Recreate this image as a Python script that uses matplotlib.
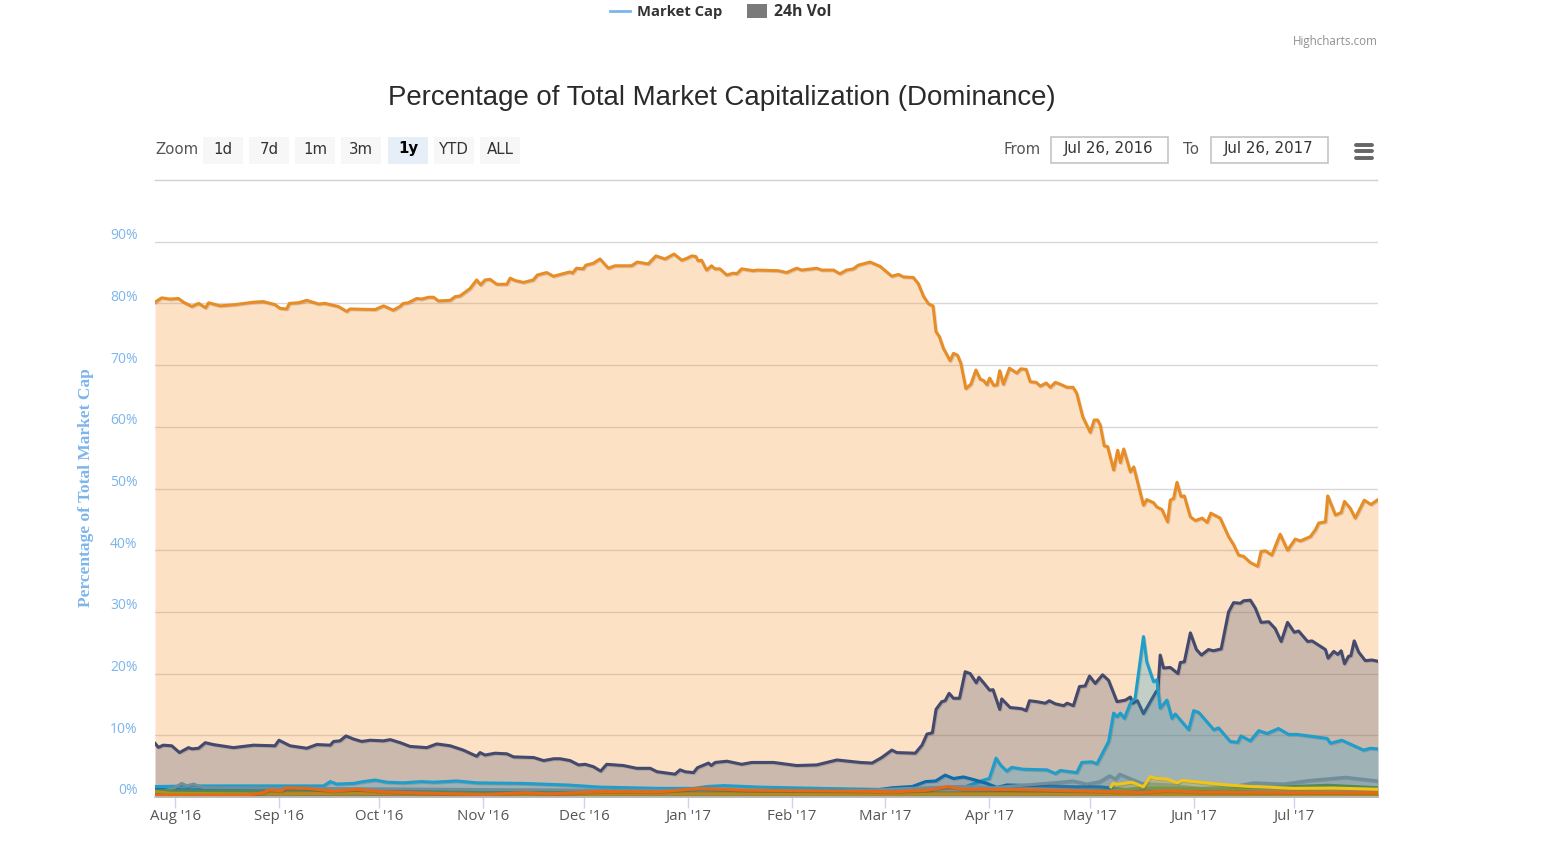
"""Dominance chart, Jul 2016 - Jul 2017"""
import matplotlib
matplotlib.use('Agg')
import matplotlib.pyplot as plt
import matplotlib.dates as mdates
import matplotlib.patheffects as pe
from matplotlib.patches import Rectangle
from matplotlib.transforms import ScaledTranslation
from datetime import datetime, timedelta

W, H = 1561, 859
START = datetime(2016, 7, 26)
END = datetime(2017, 7, 26)

# day offsets from START and percent values
btc_days = [0, 2, 4.5, 7, 8.5, 11, 13, 15.1, 16, 19.4, 23.9, 29.4, 32.3, 35.8, 37.3, 39.3, 40.1, 42.8, 45.3, 48.8,
            50.7, 54.7, 57.2, 58.2, 65.7, 68.2, 71.1, 73.1, 74.1, 75.6, 78.1, 79.6, 81.6, 83.1, 84.6, 88.1, 89.6,
            91, 94, 96, 97.2, 98.5, 100, 102, 105, 106, 107.5, 110, 112.9, 114.1, 116.9, 118.9, 123.8, 124.6,
            125.8, 127.8, 128.6, 130.8, 132.8, 135.3, 137.3, 142.2, 143.9, 147.2, 149.5, 152.2, 154.9, 157.2,
            158.7, 160.2, 161.4, 162.1, 163.1, 164.6, 166.1, 167.1, 168.6, 170.6, 172.6, 173.6, 175.1, 178.6,
            179.6, 186, 188.5, 191.5, 193, 197.5, 199, 202.5, 204.4, 206.4, 208.4, 209.9, 213.4, 216.4, 219.9,
            221.9, 223.3, 226.3, 227.8, 229.4, 230.9, 232.2, 233.1, 234.1, 235.3, 237.3, 238.3, 239.5, 240.5,
            242, 243.5, 245, 246.3, 247.3, 248.3, 249.1, 250.3, 251.3, 252.1, 253.2, 255, 257.2, 258.4, 260,
            261.2, 263, 264.2, 266, 267.2, 268.7, 270.2, 272.2, 274, 275.1, 276.9, 279.1, 280.3, 281.3, 282.1,
            283.3, 284.3, 286.1, 287.3, 288.1, 289.1, 291.1, 292.1, 295, 296, 298, 299, 300.5, 302.2, 303, 304,
            305, 306.2, 307.2, 309, 310.5, 312.5, 314, 315.1, 317.9, 320.4, 321.9, 323.4, 324.9, 326.9, 329.1,
            330.1, 331.4, 333.3, 335.8, 338, 340.3, 341.8, 344.8, 346.3, 347.3, 349.3, 350, 352.3, 354, 355,
            356.7, 358.2, 360.9, 362.9, 365]
btc_vals = [80.2, 80.9, 80.7, 80.8, 80.2, 79.5, 80, 79.3, 80.1, 79.6, 79.8, 80.2, 80.3, 79.8, 79.2, 79.1, 80, 80.1,
            80.5, 79.9, 80, 79.5, 78.7, 79.1, 79, 79.6, 78.9, 79.5, 80, 80.1, 80.8, 80.7, 81, 81, 80.4, 80.5, 81.1,
            81.2, 82.4, 83.8, 83, 83.8, 83.9, 83.1, 83.1, 84.1, 83.7, 83.4, 83.8, 84.6, 85, 84.4, 85.1, 84.9, 85.7,
            85.6, 86.2, 86.5, 87.2, 85.7, 86.1, 86.1, 86.7, 86.4, 87.7, 87.2, 88, 87, 87.3, 87.7, 87.6, 86.9, 87,
            85.4, 86.1, 85.6, 85.6, 84.6, 84.9, 84.8, 85.6, 85.3, 85.4, 85.3, 85, 85.7, 85.4, 85.7, 85.4, 85.4,
            84.8, 85.4, 85.6, 86.2, 86.7, 86, 84.4, 84.7, 84.3, 84.2, 83.2, 81.1, 79.9, 79.6, 75.4, 74.6, 72.7,
            70.7, 71.9, 71.6, 70.3, 66.2, 66.9, 69.2, 67.7, 67.5, 66.8, 67.9, 66.7, 66.8, 69.1, 66.9, 69.5, 68.7,
            69.4, 69.3, 67.3, 67.2, 66.6, 67.1, 66.4, 67.2, 66.9, 66.4, 66.4, 65.4, 61.6, 59.1, 61.1, 61.1, 60.3,
            56.9, 56.8, 53, 56.2, 54.2, 56.4, 52.7, 53.5, 47.3, 48.2, 47.7, 47, 46.6, 44.6, 48.1, 48.4, 51, 48.7,
            48.8, 45.4, 44.8, 45.2, 44.5, 46, 45.2, 42.2, 40.9, 39.2, 39, 38, 37.4, 39.8, 39.9, 39.2, 42.6, 40,
            41.8, 41.5, 42.2, 43.3, 44.4, 44.6, 48.8, 45.7, 46.1, 47.9, 46.8, 45.2, 48.1, 47.4, 48.2]

eth_days = [0, 1, 2.5, 5, 7.3, 10, 11, 13, 15, 17.4, 23.4, 29.4, 35.8, 37, 40.3, 45.3, 48.3, 52.3, 53.3, 55.2, 57,
            59.2, 61.7, 64.2, 68.2, 70.2, 73.2, 76.1, 81.1, 84.1, 88.1, 92, 96, 97, 98.5, 101.5, 105, 107, 113,
            116, 119, 120.9, 123.9, 126.4, 128.4, 130.9, 133, 134.8, 139.8, 143.8, 147.8, 149.8, 155.2, 156.7,
            158.2, 160.7, 161.9, 165.2, 166, 167.2, 170.7, 175.1, 178.1, 184.6, 191.5, 197.5, 203.5, 210.5, 214,
            216.9, 219.9, 221.4, 226.9, 228.9, 230.4, 232, 233.1, 234.8, 235.8, 237, 238.3, 240.1, 241.8, 243.3,
            245.1, 245.9, 247.3, 249.1, 250.1, 252.1, 252.7, 255.2, 257.2, 258.7, 260, 261, 263.2, 265.7, 266.9,
            268.7, 271.2, 272.2, 274.1, 275.9, 277.6, 278.9, 280.6, 282.8, 284.6, 287.1, 289.6, 291.1, 291.8,
            293.2, 295, 298.8, 299.3, 300, 301, 303, 305.3, 306, 307.2, 309, 310.8, 312.3, 314.4, 315.9, 318.2,
            320.4, 321.9, 323.9, 324.9, 326.9, 328.4, 330.1, 332.4, 334.3, 336.1, 338, 340, 341.3, 344, 345.3,
            349.3, 350.1, 351.8, 353, 354, 355, 356.2, 356.9, 357.9, 359.2, 361.2, 363.2, 365]
eth_vals = [8.7, 8.05, 8.4, 8.3, 7.2, 8, 7.8, 7.9, 8.8, 8.5, 8, 8.4, 8.3, 9.2, 8.3, 7.9, 8.5, 8.4, 9, 9.1, 9.9, 9.4,
            9, 9.2, 9.1, 9.3, 8.8, 8.2, 8, 8.6, 8.3, 7.6, 6.6, 7.2, 6.8, 7.1, 7, 6.5, 6.4, 5.9, 6.2, 6.2, 5.9, 5.2,
            5.3, 4.9, 4.2, 5.3, 5.1, 4.65, 4.65, 4.1, 3.7, 4.4, 4.1, 3.95, 4.75, 5.5, 5.1, 5.6, 5.8, 5.3, 5.6, 5.6,
            5.1, 5.2, 6, 5.6, 5.5, 6.4, 7.6, 7.2, 7.1, 8.4, 10.2, 10.4, 14.2, 15.45, 15.6, 16.8, 16, 16, 20.3, 20,
            18.5, 19.4, 18.5, 17.3, 17.4, 14.2, 15.9, 14.5, 14.4, 14.3, 14, 15.6, 15.45, 15.2, 15.6, 15.1, 14.8,
            15.2, 14.8, 17.9, 18, 19.6, 18.4, 19.8, 18.9, 15.45, 15.7, 16.2, 15.2, 15.6, 13.5, 17.1, 17.3, 23, 20.9,
            21, 20, 21.8, 21.9, 26.6, 23.9, 23, 23.9, 23.7, 24, 30, 31.5, 31.4, 31.8, 31.9, 30.6, 28.3, 28.4, 27.3,
            25.2, 28.3, 26.7, 26.9, 25.2, 25.3, 23.9, 22.5, 23.6, 23.1, 23.7, 21.6, 22.8, 22.9, 25.3, 23.5, 22.1,
            22.2, 22]

xrp_days = [0, 13.5, 33.4, 50.3, 52.3, 54.2, 59.2, 62.2, 65.7, 69.2, 74.1, 79.6, 83.1, 90, 96, 110, 123, 133, 150.8,
            160.7, 164.7, 169.7, 180.6, 198.5, 214.4, 222.4, 242, 247.3, 249, 251, 252.3, 254.2, 255.7, 259.2, 266.2,
            268.7, 270.2, 275.1, 276.6, 279.6, 281.1, 284.6, 286.1, 287.1, 288.1, 289.3, 291.1, 292.5, 295, 296, 298,
            299, 300, 302, 303.5, 304.5, 308.5, 310, 311.5, 316, 317.4, 320.9, 323.1, 324.1, 326.9, 329.4, 331.9,
            335.3, 338.3, 340.8, 349.8, 350.8, 354.2, 360.7, 362.7, 365]
xrp_vals = [1.7, 1.8, 1.8, 1.8, 2.5, 2.1, 2.2, 2.5, 2.75, 2.4, 2.3, 2.5, 2.4, 2.6, 2.3, 2.2, 1.95, 1.6, 1.4, 1.4, 1.7,
            1.85, 1.6, 1.4, 1.25, 1.2, 1.7, 2.75, 3, 6.3, 5.2, 4.2, 4.8, 4.5, 4.4, 3.8, 4.3, 3.95, 5.6, 5.7, 5.35, 9,
            13.6, 13, 13.6, 12.75, 15.2, 16, 26, 21.9, 18.7, 19, 14.4, 15.7, 12.75, 13.45, 10.9, 14, 13.7, 10.9, 11.2,
            9, 8.85, 9.9, 9.1, 10.75, 10.3, 11.1, 10.15, 10.15, 9.5, 8.7, 9.2, 7.6, 7.9, 7.8]

ltc_days = [0, 100, 200, 216, 220, 226, 230, 233, 235.8, 238.3, 241.3, 244.8, 248.3, 251.3, 254.2, 262.2, 275.1,
            282, 292, 302, 322, 365]
ltc_vals = [1.2, 1, 0.9, 1.2, 1.5, 1.7, 2.5, 2.6, 3.55, 3, 3.25, 2.75, 2.2, 1.55, 1.95, 1.85, 1.65, 1.65, 1.1, 0.85,
            0.85, 0.75]

slate_days = [0, 5.5, 8, 9.5, 11.5, 14.5, 100, 200, 241.3, 250, 270.2, 274, 278.1, 282, 284.9, 286.6, 287.9, 291,
              294.5, 298, 302, 312, 322, 328, 336.8, 344, 355.2, 365]
slate_vals = [0.6, 1.4, 2.2, 1.8, 2.1, 1.5, 1.2, 0.9, 1.7, 1.5, 2.4, 2.6, 2.1, 2.5, 3.45, 2.9, 3.7, 3, 2.2, 2.1, 2,
              1.4, 1.7, 2.3, 2.1, 2.65, 3.2, 2.6]

green_days = [0, 100, 250, 285, 295, 320, 350, 365]
green_vals = [1, 0.7, 0.7, 1, 1.5, 1.3, 1.9, 1.5]

yellow_days = [285.3, 285.9, 287.1, 291.6, 295, 297, 299, 302, 305, 306.5, 320, 327, 332, 339.8, 351.8, 365]
yellow_vals = [1.65, 2.2, 2.05, 2.4, 1.65, 3.3, 3, 2.9, 2.3, 2.7, 1.95, 1.7, 1.6, 1.4, 1.45, 1.25]

olive_days = [0, 5, 30, 60, 100, 150, 200, 300, 365]
olive_vals = [0.9, 0.6, 0.5, 0.6, 0.4, 0.5, 0.45, 0.5, 0.4]

orange_days = [0, 27.4, 32.4, 33.9, 37.8, 39, 45.3, 53.3, 60.2, 68.2, 83, 98, 111, 118, 133, 150.8, 162.7, 176.6,
               200.5, 220.4, 230.4, 236.8, 240.3, 262.2, 295, 302, 312, 365]
orange_vals = [0.3, 0.3, 0.7, 1.15, 1, 1.5, 1.4, 0.95, 1.25, 0.85, 0.6, 0.4, 0.7, 0.5, 0.9, 0.85, 1.4, 1.1, 1, 0.85,
               1.1, 1.7, 1.3, 1.15, 0.75, 1, 0.8, 0.7]

month_starts = [datetime(2016, 8, 1), datetime(2016, 9, 1), datetime(2016, 10, 1), datetime(2016, 11, 1),
                datetime(2016, 12, 1), datetime(2017, 1, 1), datetime(2017, 2, 1), datetime(2017, 3, 1),
                datetime(2017, 4, 1), datetime(2017, 5, 1), datetime(2017, 6, 1), datetime(2017, 7, 1)]
month_labels = ["Aug '16", "Sep '16", "Oct '16", "Nov '16", "Dec '16", "Jan '17", "Feb '17", "Mar '17",
                "Apr '17", "May '17", "Jun '17", "Jul '17"]
y_ticks = [0, 10, 20, 30, 40, 50, 60, 70, 80, 90]
zoom_buttons = ['1d', '7d', '1m', '3m', '1y', 'YTD', 'ALL']

# Colors
BTC = '#E88D25'
BTC_FILL = '#F78C20'
ETH = '#434A6E'
XRP = '#1F9ECB'
LTC = '#0F6CAB'
SLATE = '#6F8F9C'
GREEN = '#4F8A5A'
YELLOW = '#F0C419'
OLIVE = '#A8961F'
ORANGE = '#E8681A'
AXIS_BLUE = '#7CB5EC'
TEXT = '#555555'
UI_FONT = 'DejaVu Sans'
UI_SIZE = 10.8

fig = plt.figure(figsize=(W / 100, H / 100), dpi=100, facecolor='white')

# main plot, 155-1378 px wide, 180-797 px high
ax = fig.add_axes([155 / W, 1 - 797 / H, (1378 - 155) / W, (797 - 180) / H])
ax.set_xlim(mdates.date2num(START), mdates.date2num(END))
ax.set_ylim(0, 100)
for s in ax.spines.values():
    s.set_visible(False)
ax.grid(axis='y', color='#D8D8D8', linewidth=1)
ax.set_axisbelow(True)

series = [(btc_days, btc_vals, BTC), (eth_days, eth_vals, ETH), (xrp_days, xrp_vals, XRP),
          (ltc_days, ltc_vals, LTC), (slate_days, slate_vals, SLATE), (green_days, green_vals, GREEN),
          (yellow_days, yellow_vals, YELLOW), (olive_days, olive_vals, OLIVE), (orange_days, orange_vals, ORANGE)]
shadow = [pe.SimpleLineShadow(offset=(0.7, -0.7), alpha=0.12), pe.Normal()]
for i, (days, vals, col) in enumerate(series):
    xs = [START + timedelta(days=d) for d in days]
    fill_col = BTC_FILL if col == BTC else col
    ax.fill_between(xs, vals, 0, color=fill_col, alpha=0.26, linewidth=0, zorder=2 + i)
    ax.plot(xs, vals, color=col, linewidth=2.2, solid_joinstyle='round', zorder=2 + i, path_effects=shadow)

ax.set_xticks(month_starts)
ax.set_xticklabels(month_labels, fontsize=10.8, color=TEXT, family='Open Sans')
ax.tick_params(axis='x', length=8, width=1, color='#CCD6EB', pad=0.5)
ax.set_yticks(y_ticks)
ax.set_yticklabels([f'{v}%' for v in y_ticks], fontsize=10, color=AXIS_BLUE, family='Open Sans')
ax.tick_params(axis='y', length=0, pad=12.5)
# labels sit a bit above their gridline
shift = ScaledTranslation(0, 8 / 100, fig.dpi_scale_trans)
for lab in ax.get_yticklabels():
    lab.set_transform(lab.get_transform() + shift)
ax.set_ylabel('Percentage of Total Market Cap', fontsize=12.5, fontweight='bold', color=AXIS_BLUE,
              family='Liberation Serif')
ax.yaxis.set_label_coords((94 - 155) / (1378 - 155), (797 - 488) / (797 - 180))
ax.axhline(0, color='#C0C0C0', linewidth=1.2, zorder=20, clip_on=False)

# page chrome in pixel coordinates
ui = fig.add_axes([0, 0, 1, 1], facecolor='none')
ui.set_xlim(0, W)
ui.set_ylim(H, 0)
ui.axis('off')
ui.plot([155, 1377.5], [180, 180], color='#D0D0D0', linewidth=1)

ui.text(721.5, 98, 'Percentage of Total Market Capitalization (Dominance)', fontsize=19.9, color='#2A2A2A',
        ha='center', va='center', family='Liberation Sans')

# legend
ui.plot([610, 630], [11, 11], color=AXIS_BLUE, linewidth=2)
ui.text(637, 16, 'Market Cap', fontsize=10.6, fontweight='bold', color='#333333', va='baseline', family='Open Sans')
ui.add_patch(Rectangle((747, 4), 20, 14, facecolor='#7A7A7A', edgecolor='none'))
ui.text(774, 16, '24h Vol', fontsize=11.4, fontweight='bold', color='#333333', va='baseline', family='Open Sans')
ui.text(1378, 41, 'Highcharts.com', fontsize=8.4, color='#909090', ha='right', va='center', family='Open Sans')

# range selector
ui.text(155, 150, 'Zoom', fontsize=UI_SIZE, color=TEXT, va='center', family=UI_FONT)
button_left = [203, 249, 295, 341, 388, 434, 480]
for label, left in zip(zoom_buttons, button_left):
    active = label == '1y'
    ui.add_patch(Rectangle((left, 137), 40, 27, facecolor='#E6EEF8' if active else '#F7F7F7', edgecolor='none'))
    ui.text(left + 20, 149, label, fontsize=UI_SIZE, color='black' if active else '#333333',
            fontweight='bold' if active else 'normal', ha='center', va='center', family=UI_FONT)

ui.text(1004, 149, 'From', fontsize=UI_SIZE, color=TEXT, va='center', family=UI_FONT)
ui.text(1183, 149, 'To', fontsize=UI_SIZE, color=TEXT, va='center', family=UI_FONT)
for left, label in [(1051, 'Jul 26, 2016'), (1211, 'Jul 26, 2017')]:
    ui.add_patch(Rectangle((left, 137), 117, 26, facecolor='white', edgecolor='#C0C0C0', linewidth=1.1))
    ui.text(left + 58, 149, label, fontsize=UI_SIZE, color='#333333', ha='center', va='center', family=UI_FONT)

# hamburger menu
for y in (144.5, 151, 157.5):
    ui.plot([1356, 1372], [y, y], color='#666666', linewidth=2.8, solid_capstyle='round')

fig.savefig('out.png', dpi=100, facecolor='white')
plt.close()
